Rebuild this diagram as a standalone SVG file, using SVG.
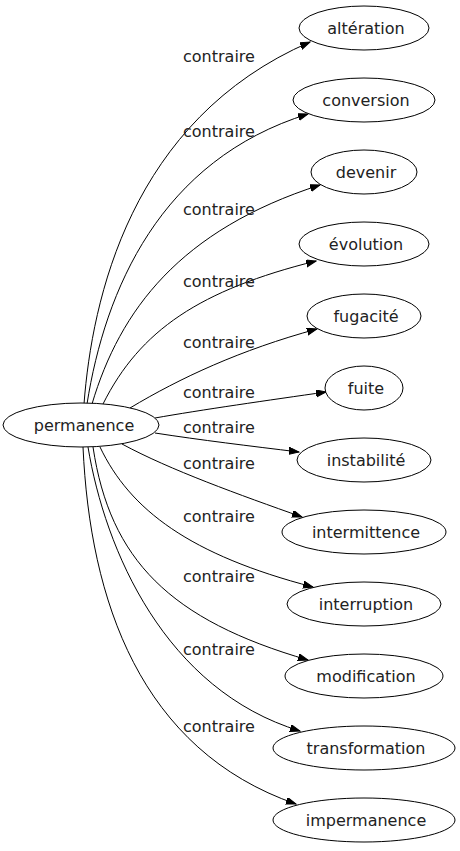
<svg xmlns="http://www.w3.org/2000/svg" width="460" height="851" viewBox="0 0 460 851">
<style>
.node ellipse{fill:#fff;stroke:#000;stroke-width:1}
text{font-family:"DejaVu Sans",sans-serif;font-size:16px;fill:#222}
.node text{text-anchor:middle}
.edges path{fill:none;stroke:#000;stroke-width:1;marker-end:url(#arr)}
</style>
<defs>
<marker id="arr" markerUnits="userSpaceOnUse" markerWidth="11" markerHeight="8" refX="10" refY="3.5" orient="auto">
<path d="M0,0 L10,3.5 L0,7 z" fill="#000" stroke="#000" stroke-width="1"/>
</marker>
</defs>
<rect width="460" height="851" fill="#fff"/>
<g class="edges">
<path d="M84,404 C92,300 130,120 310,42"/>
<path d="M87,404 C105,290 160,160 308,114"/>
<path d="M92,404 C120,310 180,230 320,185"/>
<path d="M103,404 C140,330 200,290 316,261"/>
<path d="M130,408 C180,378 240,350 317,329"/>
<path d="M155,418 C200,410 270,400 326,392"/>
<path d="M155,433 C200,440 250,446 299,452"/>
<path d="M122,444 C170,470 240,495 302,517"/>
<path d="M100,447 C130,510 190,555 313,587"/>
<path d="M93,447 C110,560 170,620 308,660"/>
<path d="M88,447 C105,550 165,690 300,731"/>
<path d="M83,447 C90,600 140,750 296,804"/>
</g>
<g class="labels">
<text x="183" y="62">contraire</text>
<text x="183" y="137">contraire</text>
<text x="183" y="215">contraire</text>
<text x="183" y="287">contraire</text>
<text x="183" y="348">contraire</text>
<text x="183" y="398">contraire</text>
<text x="183" y="433">contraire</text>
<text x="183" y="469">contraire</text>
<text x="183" y="522">contraire</text>
<text x="183" y="582">contraire</text>
<text x="183" y="655">contraire</text>
<text x="183" y="732">contraire</text>
</g>
<g id="n-permanence" class="node"><ellipse cx="81" cy="425" rx="78" ry="22"/><text x="84" y="431">permanence</text></g>
<g id="n-alteration" class="node"><ellipse cx="364" cy="28" rx="65" ry="22"/><text x="366" y="34">altération</text></g>
<g id="n-conversion" class="node"><ellipse cx="364" cy="100" rx="71" ry="22"/><text x="366" y="106">conversion</text></g>
<g id="n-devenir" class="node"><ellipse cx="364" cy="172" rx="53" ry="22"/><text x="366" y="178">devenir</text></g>
<g id="n-evolution" class="node"><ellipse cx="364" cy="244" rx="65" ry="22"/><text x="366" y="250">évolution</text></g>
<g id="n-fugacite" class="node"><ellipse cx="364" cy="316" rx="57" ry="22"/><text x="366" y="322">fugacité</text></g>
<g id="n-fuite" class="node"><ellipse cx="364" cy="388" rx="39" ry="22"/><text x="366" y="394">fuite</text></g>
<g id="n-instabilite" class="node"><ellipse cx="364" cy="460" rx="67" ry="22"/><text x="366" y="466">instabilité</text></g>
<g id="n-intermittence" class="node"><ellipse cx="364" cy="532" rx="82" ry="22"/><text x="366" y="538">intermittence</text></g>
<g id="n-interruption" class="node"><ellipse cx="364" cy="604" rx="77" ry="22"/><text x="366" y="610">interruption</text></g>
<g id="n-modification" class="node"><ellipse cx="364" cy="676" rx="79" ry="22"/><text x="366" y="682">modification</text></g>
<g id="n-transformation" class="node"><ellipse cx="364" cy="748" rx="91" ry="22"/><text x="366" y="754">transformation</text></g>
<g id="n-impermanence" class="node"><ellipse cx="364" cy="820" rx="91" ry="22"/><text x="366" y="826">impermanence</text></g>
</svg>
